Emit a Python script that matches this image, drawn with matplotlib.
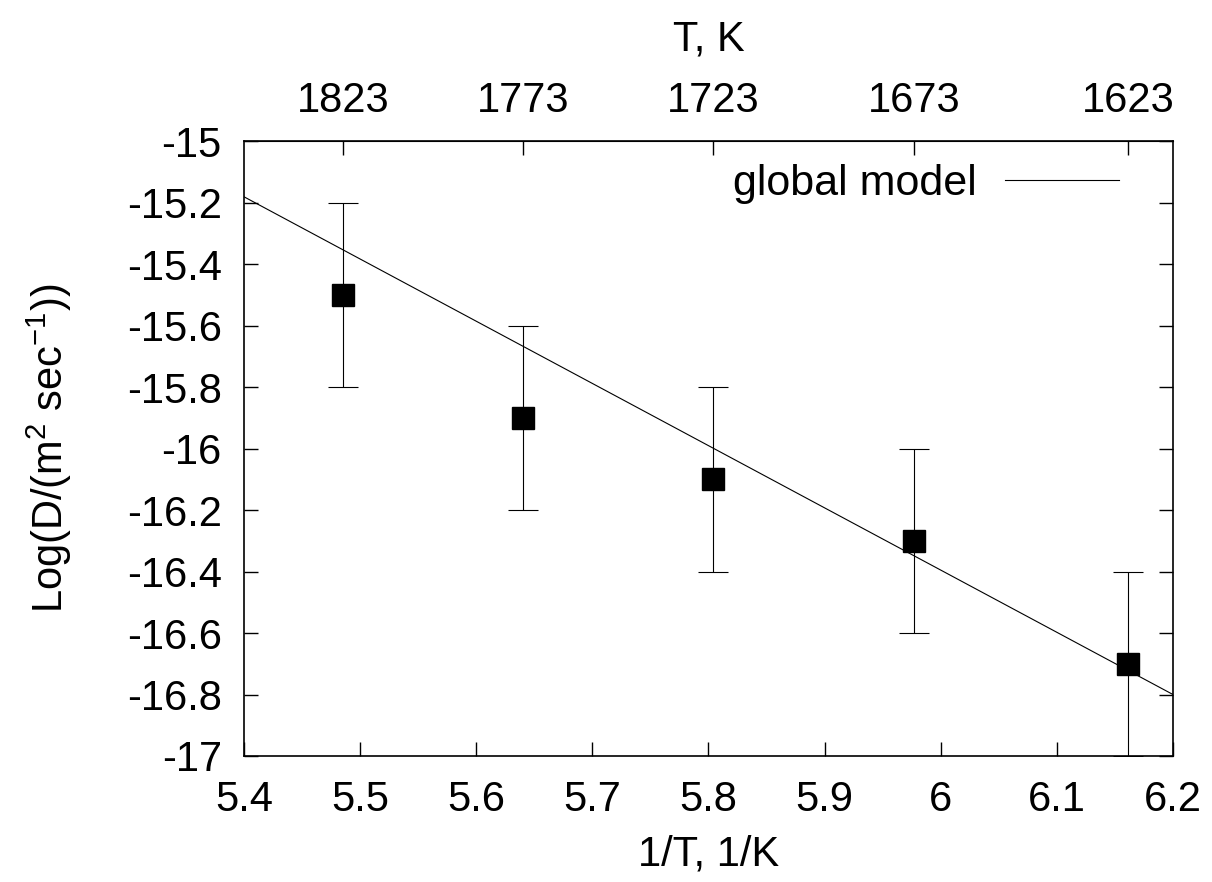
"""Arrhenius plot of log D vs 1/T with a global model line (gnuplot style)."""

import matplotlib

matplotlib.use("Agg")
import matplotlib.pyplot as plt
import numpy as np

# measured temperatures and diffusivities
temps_K = [1823, 1773, 1723, 1673, 1623]
log_D = [-15.5, -15.9, -16.1, -16.3, -16.7]
log_D_err = [0.3, 0.3, 0.3, 0.3, 0.3]

# global model line endpoints (1/T in 1e-4 1/K, log D)
model_x = [5.4, 6.2]
model_y = [-15.18, -16.80]

x_ticks = [5.4, 5.5, 5.6, 5.7, 5.8, 5.9, 6.0, 6.1, 6.2]
x_tick_labels = ["5.4", "5.5", "5.6", "5.7", "5.8", "5.9", "6", "6.1", "6.2"]
y_ticks = [-17, -16.8, -16.6, -16.4, -16.2, -16, -15.8, -15.6, -15.4, -15.2, -15]
y_tick_labels = ["-17", "-16.8", "-16.6", "-16.4", "-16.2", "-16",
                 "-15.8", "-15.6", "-15.4", "-15.2", "-15"]

plt.rcParams["font.family"] = ["Liberation Sans", "DejaVu Sans"]
plt.rcParams["mathtext.fontset"] = "custom"
plt.rcParams["mathtext.rm"] = "Liberation Sans"
plt.rcParams["mathtext.it"] = "Liberation Sans"
FS = 30

inv_T = 1e4 / np.array(temps_K)

fig = plt.figure(figsize=(12.12, 8.82), dpi=100)
ax = fig.add_axes([0.2013, 0.1429, 0.7665, 0.6967])

ax.plot(model_x, model_y, color="black", lw=0.8, label="global model")
ax.errorbar(inv_T, log_D, yerr=log_D_err, fmt="none", ecolor="black",
            elinewidth=0.8, capsize=11, capthick=0.8)
ax.plot(inv_T, log_D, ls="none", marker="s", ms=15.5, color="black")

ax.set_xlim(5.4, 6.2)
ax.set_ylim(-17, -15)
ax.set_xticks(x_ticks, x_tick_labels)
ax.set_yticks(y_ticks, y_tick_labels)
ax.tick_params(axis="x", direction="in", length=10, width=1, labelsize=FS, pad=17)
ax.tick_params(axis="y", direction="in", length=10, width=1, labelsize=FS, pad=16,
               right=True)
for s in ax.spines.values():
    s.set_linewidth(1.2)

ax.set_xlabel("1/T, 1/K", fontsize=FS, labelpad=11)
ax.set_ylabel(r"Log(D/(m$^{2}$ sec$^{-1}$))", fontsize=FS, labelpad=38)

top = ax.secondary_xaxis("top")
top.set_xticks(list(inv_T), [str(t) for t in temps_K])
top.tick_params(direction="in", length=10, width=1, labelsize=FS, pad=15)
top.set_xlabel("T, K", fontsize=FS, labelpad=22)

ax.legend(loc="upper right", frameon=False, fontsize=31, markerfirst=False,
          handlelength=2.65, handletextpad=0.65, borderaxespad=0.3,
          bbox_to_anchor=(0.974, 1.012))

fig.savefig("out.png", dpi=100)
